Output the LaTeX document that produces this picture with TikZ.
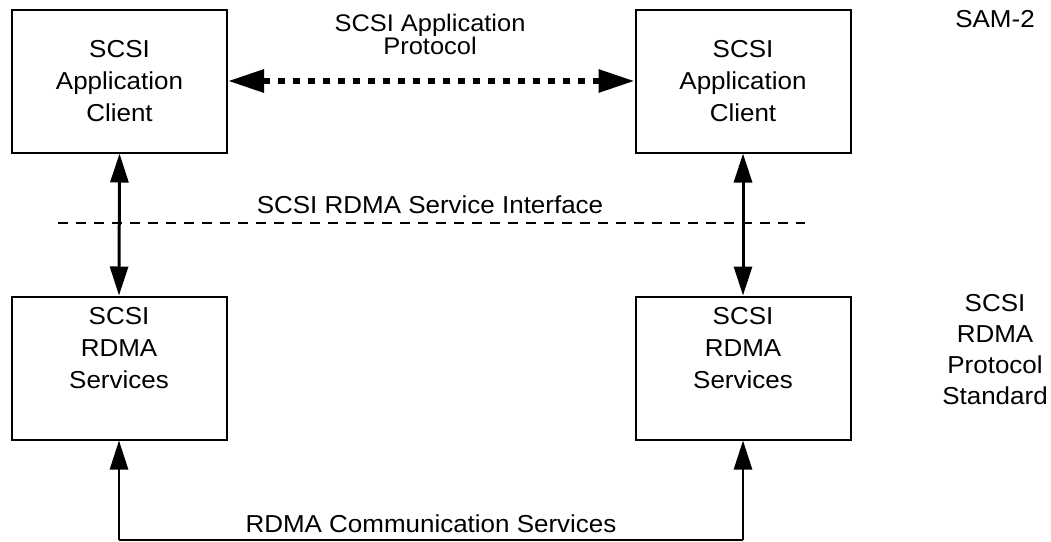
\documentclass[tikz,border=0pt]{standalone}
\usepackage{fontspec}
\setmainfont{Liberation Sans}[FakeStretch=1.06]
\usetikzlibrary{arrows.meta,positioning}
\tikzset{
  box/.style={draw,line width=2pt,minimum width=215pt,minimum height=143pt,inner sep=0pt},
  txt/.style={font=\fontsize{24.5}{32}\selectfont,align=center,inner sep=0pt},
  vlink/.style={line width=3pt,{Triangle[length=29pt,width=18pt]}-{Triangle[length=29pt,width=18pt]}},
  uplink/.style={line width=2.5pt,-{Triangle[length=29pt,width=18pt]}},
  protolink/.style={line width=6pt,dash pattern=on 7pt off 8pt,{Triangle[length=36pt,width=22pt]}-{Triangle[length=36pt,width=22pt]}},
  iface/.style={line width=2pt,dash pattern=on 10pt off 8pt}
}
\begin{document}
\begin{tikzpicture}[x=1pt,y=-1pt]
\path[use as bounding box] (0,0) rectangle (1051,541);
% boxes
\node[box,txt] (A) at (119.5,81) {SCSI\\Application\\Client};
\node[box,txt] (B) at (743,81) {SCSI\\Application\\Client};
\node[box] (C) at (119,368) {};
\node[box] (D) at (743,368) {};
\node[txt,anchor=north] (Ct) at (119,307) {SCSI\\RDMA\\Services};
\node[txt,anchor=north] (Dt) at (743,307) {SCSI\\RDMA\\Services};
% protocol arrow
\draw[protolink] (A.east) -- (B.west);
\node[txt,font=\fontsize{24}{22}\selectfont,anchor=north] (proto) at (430,14) {SCSI Application\\Protocol};
% interface line
\coordinate (il) at (58,223);
\coordinate (ir) at (805,223);
\draw[iface] (il) -- (ir);
\node[txt,anchor=base] (ifl) at (430,213) {SCSI RDMA Service Interface};
% vertical links
\draw[vlink] (A.south) -- (C.north);
\draw[vlink] (B.south) -- (D.north);
% bottom communication
\coordinate (bl) at (119,540);
\coordinate (br) at (743,540);
\draw[uplink] (bl) -- (C.south);
\draw[uplink] (br) -- (D.south);
\draw[line width=2.5pt] (bl) -- (br);
\node[txt,anchor=base] (comm) at (431,532) {RDMA Communication Services};
% right labels
\node[txt,anchor=base] (sam) at (995,27) {SAM-2};
\node[txt,font=\fontsize{24.5}{31}\selectfont] (srp) at (995,350) {SCSI\\RDMA\\Protocol\\Standard};
\end{tikzpicture}
\end{document}
